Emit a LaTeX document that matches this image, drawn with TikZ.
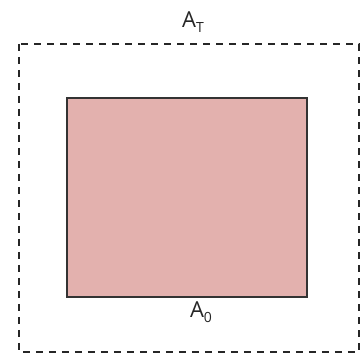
\documentclass[tikz,border=0pt]{standalone}
\usepackage{fontspec}
\setmainfont{Open Sans}
\definecolor{pinkfill}{HTML}{E3B1AE}
\definecolor{edgegray}{HTML}{333333}
\newcommand{\mysub}[1]{\raisebox{-0.25em}{\fontsize{14}{16}\selectfont #1}}
\tikzset{
  areabox/.style={draw=edgegray, line width=2pt, fill=pinkfill},
  outerbox/.style={draw=black!85, line width=2pt, dash pattern=on 7pt off 6pt},
  lbl/.style={font=\fontsize{22}{26}\selectfont, text=black!85, inner sep=0pt}
}
\begin{document}
\begin{tikzpicture}[x=1pt,y=-1pt]
\useasboundingbox (0,0) rectangle (360,356);
\draw[outerbox] (19,44) rectangle (359,352);
\draw[areabox] (67,98) rectangle (307,297);
\node[lbl] (AT) at (193,22) {A\mysub{T}};
\node[lbl] (A0) at (201,312) {A\mysub{0}};
\end{tikzpicture}
\end{document}
